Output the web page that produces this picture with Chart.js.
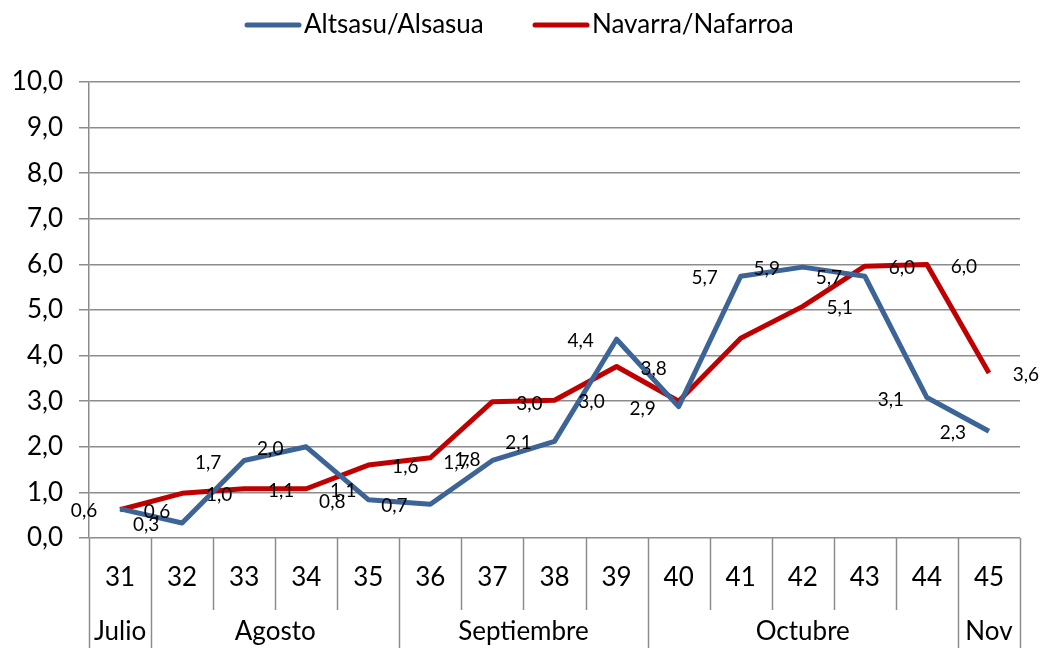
<!DOCTYPE html>
<html>
<head>
<meta charset="utf-8">
<script src="https://cdn.jsdelivr.net/npm/chart.js@4.4.1/dist/chart.umd.min.js"></script>
<style>
  html, body { margin: 0; padding: 0; background: #fff; }
  #wrap { width: 1041px; height: 648px; }
</style>
</head>
<body>
<div id="wrap"><canvas id="chart"></canvas></div>
<script>
const weeks = ["31", "32", "33", "34", "35", "36", "37", "38", "39", "40", "41", "42", "43", "44", "45"];
const months = ["Julio", "Agosto", "Septiembre", "Octubre", "Nov"];
const monthSpans = [1, 4, 4, 5, 1];
const altsasu = [0.64, 0.33, 1.7, 2.0, 0.84, 0.74, 1.7, 2.12, 4.36, 2.88, 5.74, 5.94, 5.74, 3.08, 2.34];
const navarra = [0.62, 0.98, 1.08, 1.08, 1.6, 1.76, 2.99, 3.02, 3.76, 3.0, 4.38, 5.08, 5.96, 6.0, 3.62];
const navarraNoLabel = [9, 10];
const yTicks = [0, 1, 2, 3, 4, 5, 6, 7, 8, 9, 10];

const FONT = "Lato";
const GRID = "#8c8c8c";
const BLUE = "#3d6496";
const RED = "#c00000";

const fmt = v => v.toFixed(1).replace(".", ",");

const extras = {
  id: "extras",
  afterDatasetsDraw(chart) {
    const ctx = chart.ctx;
    ctx.save();
    ctx.font = "19px " + FONT;
    ctx.fillStyle = "#000";
    ctx.textAlign = "center";
    ctx.textBaseline = "middle";
    chart.getDatasetMeta(0).data.forEach((p, i) => {
      ctx.fillText(fmt(altsasu[i]), p.x - 36, p.y + 2);
    });
    chart.getDatasetMeta(1).data.forEach((p, i) => {
      if (navarraNoLabel.includes(i)) return;
      ctx.fillText(fmt(navarra[i]), p.x + 37, p.y + 2);
    });
    ctx.restore();
  },
  afterDraw(chart) {
    const ctx = chart.ctx;
    const x = chart.scales.x;
    const area = chart.chartArea;
    const w = (x.right - x.left) / weeks.length;
    ctx.save();
    ctx.strokeStyle = GRID;
    ctx.lineWidth = 1.5;
    // separadores de semanas y meses
    const monthEdges = [0];
    monthSpans.forEach(s => monthEdges.push(monthEdges[monthEdges.length - 1] + s));
    for (let i = 0; i <= weeks.length; i++) {
      const px = Math.round(x.left + i * w) + 0.5;
      const full = monthEdges.includes(i);
      ctx.beginPath();
      ctx.moveTo(px, area.bottom);
      ctx.lineTo(px, full ? 648 : 610);
      ctx.stroke();
    }
    // meses
    ctx.font = "26px " + FONT;
    ctx.fillStyle = "#000";
    ctx.textAlign = "center";
    ctx.textBaseline = "middle";
    months.forEach((m, k) => {
      const a = x.left + monthEdges[k] * w;
      const b = x.left + monthEdges[k + 1] * w;
      ctx.fillText(m, (a + b) / 2, 632);
    });
    // leyenda
    ctx.lineCap = "round";
    ctx.lineWidth = 5;
    ctx.textAlign = "left";
    ctx.font = "26px " + FONT;
    [[BLUE, "Altsasu/Alsasua", 247], [RED, "Navarra/Nafarroa", 535]].forEach(([c, t, lx]) => {
      ctx.strokeStyle = c;
      ctx.beginPath();
      ctx.moveTo(lx, 25);
      ctx.lineTo(lx + 52, 25);
      ctx.stroke();
      ctx.fillText(t, lx + 57, 25);
    });
    ctx.restore();
  }
};

new Chart(document.getElementById("chart"), {
  type: "line",
  data: {
    labels: weeks,
    datasets: [
      { label: "Altsasu/Alsasua", data: altsasu, borderColor: BLUE, borderWidth: 5, pointRadius: 0, tension: 0, borderJoinStyle: "round" },
      { label: "Navarra/Nafarroa", data: navarra, borderColor: RED, borderWidth: 5, pointRadius: 0, tension: 0, borderJoinStyle: "round" }
    ]
  },
  options: {
    responsive: true,
    maintainAspectRatio: false,
    animation: false,
    layout: { padding: { top: 82, right: 21, left: 0, bottom: 0 } },
    plugins: { legend: { display: false }, tooltip: { enabled: false } },
    scales: {
      x: {
        offset: true,
        grid: { display: false, drawTicks: false },
        border: { display: false },
        ticks: { color: "#000", font: { family: FONT, size: 26 }, padding: 24, maxRotation: 0, autoSkip: false },
        afterFit(s) { s.height = 110; }
      },
      y: {
        min: 0,
        max: 10,
        afterBuildTicks(s) { s.ticks = yTicks.map(v => ({ value: v })); },
        grid: { color: GRID, lineWidth: 1.5, tickLength: 10 },
        border: { color: GRID, width: 1.5 },
        ticks: { color: "#000", font: { family: FONT, size: 26 }, padding: 16, callback: v => fmt(v) },
        afterFit(s) { s.width = 89; }
      }
    }
  },
  plugins: [extras]
});
</script>
</body>
</html>
